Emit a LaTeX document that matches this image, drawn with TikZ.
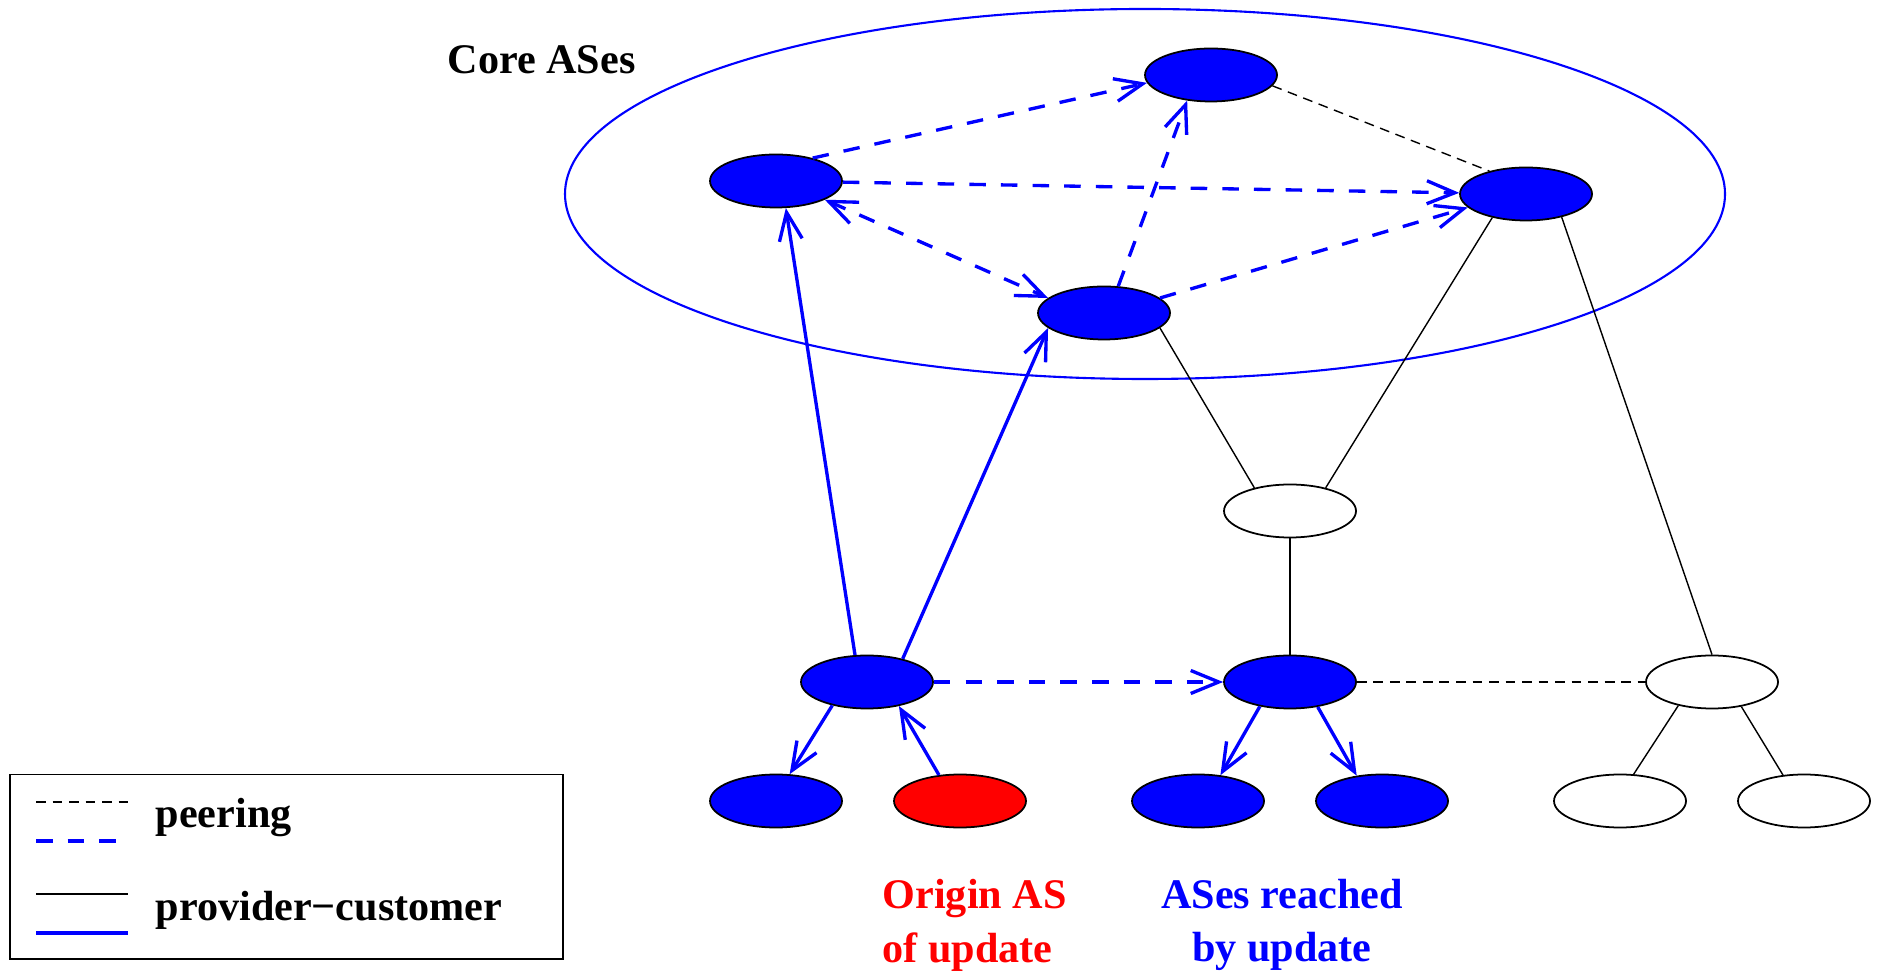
\documentclass[tikz,border=0pt]{standalone}
\usepackage{fontspec}
\setmainfont{Liberation Serif}
\usetikzlibrary{shapes.geometric,arrows.meta}

\begin{document}
\begin{tikzpicture}[every node/.style={font=\fontsize{12}{15.3}\selectfont\bfseries, inner sep=0pt},
  >={Straight Barb[length=2.8mm,width=2.3mm]},
  as/.style={ellipse, draw, line width=0.5pt, minimum width=1.32cm, minimum height=0.53cm},
  peer/.style={line width=0.4pt, dash pattern=on 2.8pt off 1.9pt},
  bpeer/.style={blue, line width=0.95pt, dash pattern=on 4.7pt off 4.3pt, ->},
  pc/.style={line width=0.4pt},
  bpc/.style={blue, line width=0.95pt, ->}]
\useasboundingbox (0,0) rectangle (18.8,9.7);

% core
\draw[blue, line width=0.6pt] (11.45,7.76) ellipse (5.80 and 1.85);
\node[anchor=base west] (core) at (4.47,8.96) {Core ASes};

\node[as, fill=blue] (a) at (12.11,8.95) {};
\node[as, fill=blue] (b) at (7.76,7.89) {};
\node[as, fill=blue] (c) at (11.04,6.57) {};
\node[as, fill=blue] (d) at (15.26,7.76) {};
\node[as, fill=white] (e) at (12.90,4.59) {};
\node[as, fill=blue] (f) at (8.67,2.88) {};
\node[as, fill=blue] (g) at (12.90,2.88) {};
\node[as, fill=white] (h) at (17.12,2.88) {};
\node[as, fill=blue] (f1) at (7.76,1.69) {};
\node[as, fill=red] (f2) at (9.60,1.69) {};
\node[as, fill=blue] (g1) at (11.98,1.69) {};
\node[as, fill=blue] (g2) at (13.82,1.69) {};
\node[as, fill=white] (h1) at (16.20,1.69) {};
\node[as, fill=white] (h2) at (18.04,1.69) {};

\draw[peer] (a.-10) -- (d.148);
\draw[peer] (g) -- (h);
\draw[pc] (c.-15) -- (e.147);
\draw[pc] (d.215) -- (e.33);
\draw[pc] (e) -- (g);
\draw[pc] (d.-33) -- (h.north);
\draw[pc] (h.215) -- (h1.63);
\draw[pc] (h.-40) -- (h2.129);

\draw[bpeer] (b.32) -- (a.187);
\draw[bpeer] (b) -- (d);
\draw[bpeer, <->] (b.-21) -- (c.165);
\draw[bpeer] (c.62) -- (a.227);
\draw[bpeer] (c.15) -- (d.193);
\draw[bpeer] (f) -- (g);
\draw[bpc] (f.114) -- (b.-70);
\draw[bpc] (f.33) -- (c.195);
\draw[bpc] (f.214) -- (f1.63);
\draw[bpc] (f2.129) -- (f.-37);
\draw[bpc] (g.219) -- (g1.49);
\draw[bpc] (g.-42) -- (g2.135);

\node[red, anchor=west, align=left] (origin) at (8.82,0.45) {Origin AS\\of update};
\node[blue, align=center] (reached) at (12.82,0.45) {ASes reached\\by update};

% legend
\draw[line width=0.5pt] (0.10,0.11) rectangle (5.63,1.955);
\draw[peer] (0.36,1.68) -- (1.28,1.68);
\draw[bpeer, -] (0.36,1.29) -- (1.28,1.29);
\draw[pc] (0.36,0.76) -- (1.28,0.76);
\draw[bpc, -] (0.36,0.37) -- (1.28,0.37);
\node[anchor=base west] (peering) at (1.55,1.43) {peering};
\node[anchor=base west] (provcust) at (1.55,0.50) {provider−customer};
\end{tikzpicture}
\end{document}
